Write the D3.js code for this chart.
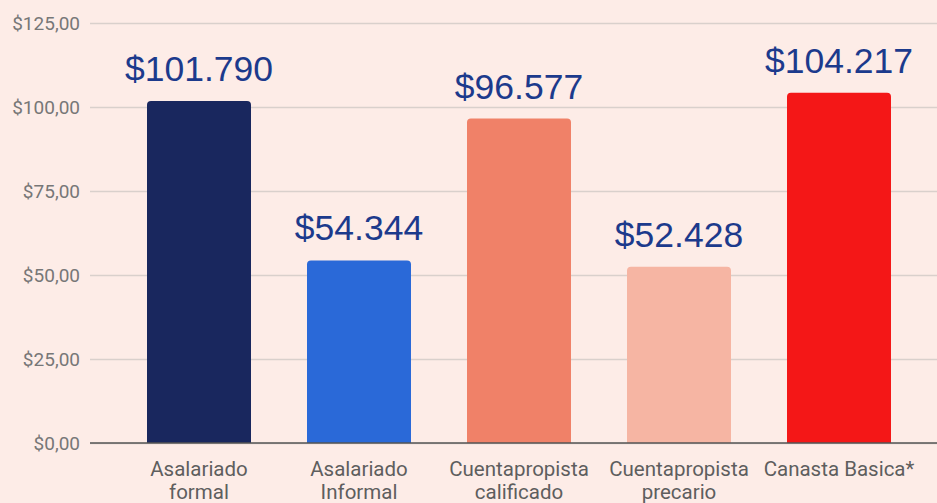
<!DOCTYPE html>
<html>
<head>
<meta charset="utf-8">
<script src="https://cdn.jsdelivr.net/npm/d3@7"></script>
<style>
  html, body { margin: 0; padding: 0; background: #fdece7; }
  svg { display: block; }
</style>
</head>
<body>
<div id="chart"></div>
<script>
// Chart data
const categories = ['Asalariado formal', 'Asalariado Informal', 'Cuentapropista calificado', 'Cuentapropista precario', 'Canasta Basica*'];
const categoryLines = [['Asalariado', 'formal'], ['Asalariado', 'Informal'], ['Cuentapropista', 'calificado'], ['Cuentapropista', 'precario'], ['Canasta Basica*']];
const values = [101790, 54344, 96577, 52428, 104217];
const barColors = ['#19275e', '#2a69d8', '#f08168', '#f6b5a3', '#f41717'];
const yTicks = [0, 25000, 50000, 75000, 100000, 125000];

const width = 937;
const height = 503;

const svg = d3.select('#chart')
  .append('svg')
  .attr('width', width)
  .attr('height', height);

svg.append('rect')
  .attr('width', width)
  .attr('height', height)
  .attr('fill', '#fdece7');

// Scales
const x = d3.scaleBand()
  .domain(categories)
  .range([119, 919])
  .paddingInner(0.35)
  .paddingOuter(0.175);

const y = d3.scaleLinear()
  .domain([0, 125000])
  .range([443, 23]);

const locale = d3.formatLocale({ decimal: ',', thousands: '.', grouping: [3], currency: ['$', ''] });
const valueFormat = locale.format('$,');

// Grid lines and y axis
const yAxis = d3.axisLeft(y)
  .tickValues(yTicks)
  .tickSize(-(width - 90))
  .tickPadding(10)
  .tickFormat(d => '$' + (d / 1000) + ',00');

const yG = svg.append('g')
  .attr('transform', 'translate(90,0)')
  .call(yAxis);

yG.select('.domain').remove();
yG.selectAll('.tick line')
  .attr('stroke', '#d9d0cc')
  .attr('stroke-width', 1.5);
yG.selectAll('.tick text')
  .attr('fill', '#777')
  .style('font-family', 'Roboto, sans-serif')
  .style('font-size', '19px');

// Bars with rounded tops
const r = 4;
svg.selectAll('.bar')
  .data(values)
  .enter().append('path')
  .attr('class', 'bar')
  .attr('fill', (d, i) => barColors[i])
  .attr('d', (d, i) => {
    const x0 = x(categories[i]);
    const x1 = x0 + x.bandwidth();
    const y0 = y(0);
    const y1 = y(d);
    return `M${x0},${y0} V${y1 + r} Q${x0},${y1} ${x0 + r},${y1} H${x1 - r} Q${x1},${y1} ${x1},${y1 + r} V${y0} Z`;
  });

// Baseline
svg.append('line')
  .attr('x1', 90)
  .attr('x2', width)
  .attr('y1', y(0))
  .attr('y2', y(0))
  .attr('stroke', '#555')
  .attr('stroke-width', 1.5);

// Value labels
svg.selectAll('.value')
  .data(values)
  .enter().append('text')
  .attr('class', 'value')
  .attr('x', (d, i) => x(categories[i]) + x.bandwidth() / 2)
  .attr('y', d => y(d) - 20)
  .attr('text-anchor', 'middle')
  .attr('fill', '#1c3a8c')
  .style('font-family', 'Arial, "Liberation Sans", sans-serif')
  .style('font-size', '35.5px')
  .text(d => valueFormat(d));

// Category labels
const catG = svg.selectAll('.cat')
  .data(categories)
  .enter().append('text')
  .attr('class', 'cat')
  .attr('x', d => x(d) + x.bandwidth() / 2)
  .attr('y', 476)
  .attr('text-anchor', 'middle')
  .attr('fill', '#5e5e5e')
  .style('font-family', 'Roboto, sans-serif')
  .style('font-size', '20.5px');

catG.each(function (d, i) {
  const t = d3.select(this);
  categoryLines[i].forEach((line, j) => {
    t.append('tspan')
      .attr('x', x(d) + x.bandwidth() / 2)
      .attr('dy', j === 0 ? 0 : 23)
      .text(line);
  });
});
</script>
</body>
</html>
